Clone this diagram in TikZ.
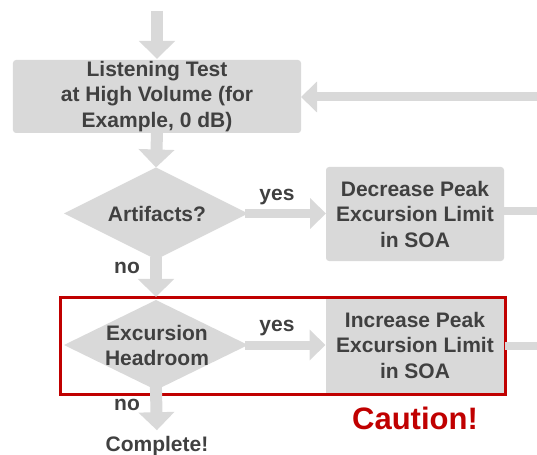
\documentclass[tikz,border=0pt]{standalone}
\usepackage{fontspec}
\setmainfont{Liberation Sans}
\usetikzlibrary{shapes.geometric,arrows.meta}
\definecolor{boxgray}{HTML}{D9D9D9}
\definecolor{txtgray}{HTML}{404040}
\definecolor{cautred}{HTML}{C00000}
\tikzset{
  every node/.style={outer sep=0pt},
  stepbox/.style={rectangle, fill=boxgray, rounded corners=3bp, inner sep=0pt,
    align=center, text=txtgray, font=\bfseries\fontsize{21bp}{25.5bp}\selectfont},
  decbox/.style={diamond, fill=boxgray, inner sep=0pt, minimum width=184bp, minimum height=92bp},
  txt/.style={inner sep=0pt, align=center, text=txtgray, font=\bfseries\fontsize{21bp}{25.5bp}\selectfont},
  varrow/.style={draw=boxgray, line width=12bp, -{Triangle[width=35bp,length=18bp]}},
  harrow/.style={draw=boxgray, line width=9bp, -{Triangle[width=30bp,length=16bp]}},
  hline/.style={draw=boxgray, line width=8bp},
  redframe/.style={draw=cautred, line width=3bp, inner sep=0pt}
}
\begin{document}
\begin{tikzpicture}[x=1bp,y=-1bp]
\useasboundingbox (0,0) rectangle (537,455);
% boxes
\node[stepbox, minimum width=288bp, minimum height=73bp] (box1) at (157,96.5)
  {Listening Test\\at High Volume (for\\Example, 0 dB)};
\node[decbox] (d1) at (156,213.5) {};
\node[txt] (d1t) at (157,214) {Artifacts?};
\node[stepbox, minimum width=178bp, minimum height=94bp] (box2) at (415,214)
  {Decrease Peak\\Excursion Limit\\in SOA};
\node[decbox, minimum height=90bp] (d2) at (156,345) {};
\node[txt] (d2t) at (157,345.5) {Excursion\\Headroom};
\node[stepbox, rounded corners=0pt, minimum width=179bp, minimum height=95bp] (box3) at (415,345)
  {Increase Peak\\Excursion Limit\\in SOA};
\node[redframe, minimum width=444bp, minimum height=97bp] (frame) at (283,345.5) {};
% labels
\node[txt] (y1) at (277,197) {yes};
\node[txt] (y2) at (277,328) {yes};
\node[txt] (n1) at (127,268) {no};
\node[txt] (n2) at (127,405) {no};
\node[txt] (done) at (157,446) {Complete!};
\node[inner sep=0pt, text=cautred, font=\bfseries\fontsize{31bp}{36bp}\selectfont] (caut) at (415,418) {Caution!};
% free ends
\coordinate (topin) at (157,11);
\coordinate (rin) at (537,97);
\coordinate (r2) at (537,211);
\coordinate (r3) at (537,346);
% connectors
\draw[varrow, shorten >=1bp] (topin) -- (box1.north);
\draw[varrow, shorten <=-1bp] (box1.south) -- (d1.north);
\draw[harrow, shorten <=-3bp] (d1.east) -- (d1.east -| box2.west);
\draw[varrow, shorten <=-3bp, shorten >=3bp] (d1.south) -- (d2.north);
\draw[harrow, shorten <=-3bp] (d2.east) -- (d2.east -| box3.west);
\draw[varrow, shorten <=-3bp, shorten >=6bp] (d2.south) -- (done.north);
\draw[hline] (box2.east |- r2) -- (r2);
\draw[hline] (frame.east |- r3) -- (r3);
\draw[harrow] (rin) -- (rin -| box1.east);
\end{tikzpicture}
\end{document}
